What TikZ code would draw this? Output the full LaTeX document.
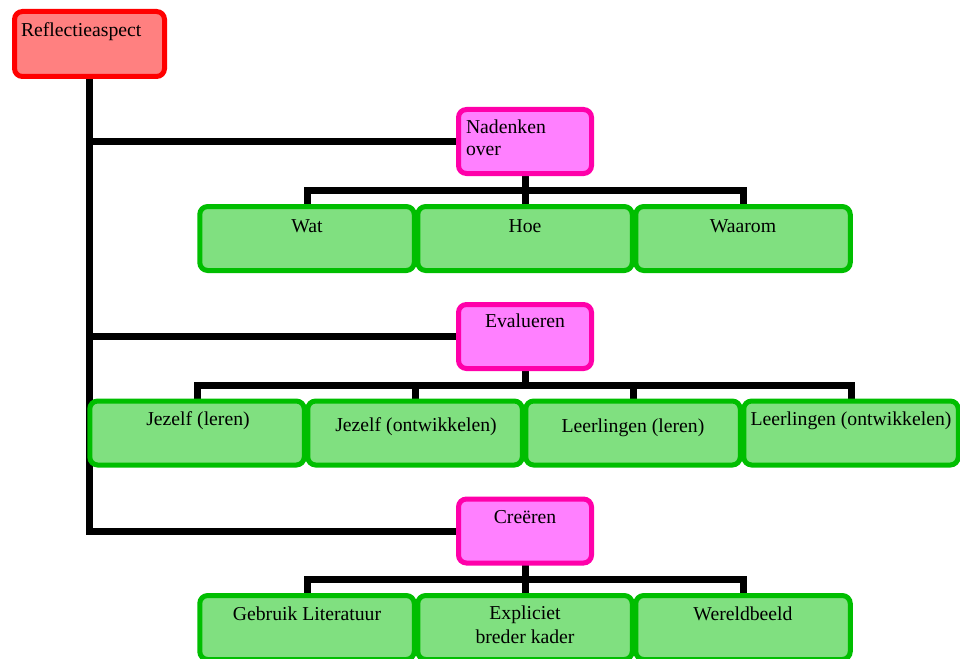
\documentclass[tikz,border=0pt]{standalone}
\usepackage{fontspec}
\setmainfont{Liberation Serif}
\pgfdeclarelayer{background}
\pgfsetlayers{background,main}
\begin{document}
\begin{tikzpicture}[x=1pt,y=-1pt,
  every node/.style={inner sep=0pt, outer sep=0pt},
  base box/.style={draw, line width=5pt, rounded corners=8pt},
  rootbox/.style={base box, draw=rootline, fill=rootfill, minimum width=150pt, minimum height=65pt},
  midbox/.style={base box, draw=midline, fill=midfill, minimum width=133pt, minimum height=64pt},
  leafbox/.style={base box, draw=leafline, fill=leaffill, minimum width=214.5pt, minimum height=64pt},
  txt/.style={font=\fontsize{19.7}{23}\selectfont, text=black},
  conn/.style={draw=black, line width=7pt, line join=miter, line cap=rect}
]
\definecolor{rootline}{RGB}{255,0,0}
\definecolor{rootfill}{RGB}{255,128,128}
\definecolor{midline}{RGB}{255,0,170}
\definecolor{midfill}{RGB}{255,128,255}
\definecolor{leafline}{RGB}{0,190,0}
\definecolor{leaffill}{RGB}{128,224,128}
\useasboundingbox (0,0) rectangle (960,658);

% bus coordinates
\coordinate (bus1) at (525,190);
\coordinate (bus2) at (525,385);
\coordinate (bus3) at (525,579);

% boxes
\path (89.5,44) node[rootbox] (root) {};
\path (525,141.5) node[midbox] (nad) {};
\path (525,336.5) node[midbox] (eva) {};
\path (525,531) node[midbox] (cre) {};

\path (307,238.5) node[leafbox] (wat) {};
\path (525,238.5) node[leafbox] (hoe) {};
\path (743,238.5) node[leafbox] (waarom) {};

\path (197,433) node[leafbox] (jl) {};
\path (415,433) node[leafbox] (jo) {};
\path (633,433) node[leafbox] (ll) {};
\path (851,433) node[leafbox] (lo) {};

\path (307,627.5) node[leafbox] (geb) {};
\path (525,627.5) node[leafbox] (exp) {};
\path (743,627.5) node[leafbox] (wer) {};

% connectors behind the boxes
\begin{pgfonlayer}{background}
\draw[conn] (root.south) |- (cre.west);
\draw[conn] (root.south |- nad.west) -- (nad.west);
\draw[conn] (root.south |- eva.west) -- (eva.west);

\draw[conn] (nad.south) -- (bus1);
\draw[conn] (wat.north) |- (bus1) -| (waarom.north);
\draw[conn] (bus1) -- (hoe.north);

\draw[conn] (eva.south) -- (bus2);
\draw[conn] (jl.north) |- (bus2) -| (lo.north);
\draw[conn] (jo.north) -- (jo.north |- bus2);
\draw[conn] (ll.north) -- (ll.north |- bus2);

\draw[conn] (cre.south) -- (bus3);
\draw[conn] (geb.north) |- (bus3) -| (wer.north);
\draw[conn] (bus3) -- (exp.north);
\end{pgfonlayer}

% texts
\node[txt, anchor=base west] (rootT) at (21,37) {Reflectieaspect};
\node[txt, anchor=base west] (nadT1) at (466,133) {Nadenken};
\node[txt, anchor=base west] (nadT2) at (466,155) {over};
\node[txt, anchor=base] (evaT) at (525,327) {Evalueren};
\node[txt, anchor=base] (creT) at (525,523) {Creëren};

\node[txt, anchor=base] (watT) at (307,232) {Wat};
\node[txt, anchor=base] (hoeT) at (525,232) {Hoe};
\node[txt, anchor=base] (waaromT) at (743,232) {Waarom};

\node[txt, anchor=base] (jlT) at (198,425) {Jezelf (leren)};
\node[txt, anchor=base] (joT) at (416,431) {Jezelf (ontwikkelen)};
\node[txt, anchor=base] (llT) at (633,432) {Leerlingen (leren)};
\node[txt, anchor=base] (loT) at (851,425) {Leerlingen (ontwikkelen)};

\node[txt, anchor=base] (gebT) at (307,620) {Gebruik Literatuur};
\node[txt, anchor=base] (expT1) at (525,619) {Expliciet};
\node[txt, anchor=base] (expT2) at (525,643) {breder kader};
\node[txt, anchor=base] (werT) at (743,620) {Wereldbeeld};
\end{tikzpicture}
\end{document}
